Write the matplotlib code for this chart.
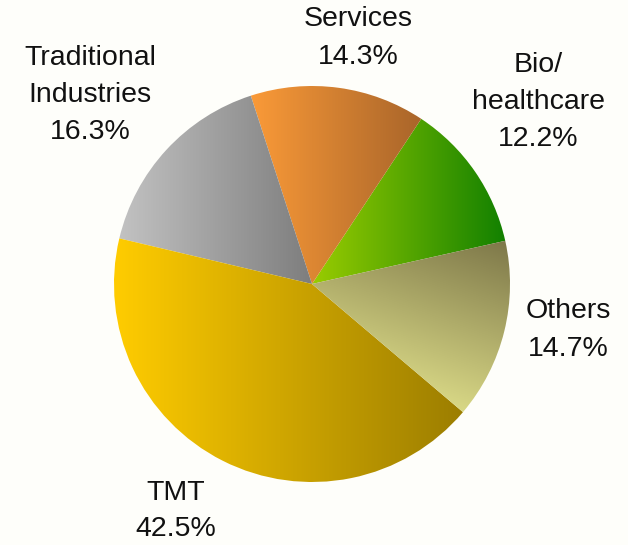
import numpy as np
import matplotlib
matplotlib.use("Agg")
import matplotlib.pyplot as plt
from matplotlib.colors import LinearSegmentedColormap

# data
sectors = ["Bio/\nhealthcare", "Services", "Traditional\nIndustries", "TMT", "Others"]
shares = [12.2, 14.3, 16.3, 42.5, 14.7]
# gradient colours (light -> dark)
light_colors = ["#99CC00", "#FA9A38", "#C2C2C2", "#FFCC00", "#E2E28C"]
dark_colors = ["#128000", "#A9652A", "#7E7E7E", "#9C7E00", "#7C7648"]
# gradient direction in pixels (from top-left), None = left to right
grad_lines = [None, None, None, None, ((445, 425), (512, 240))]
# label block centres in pixels (x, y from top)
label_pos = [(538, 102), (358, 38), (90, 95), (176, 511), (568, 330)]

W, H = 628, 545
plt.rcParams["font.family"] = ["Liberation Sans Narrow", "Liberation Sans", "DejaVu Sans"]

fig = plt.figure(figsize=(W / 100, H / 100), dpi=100)
fig.patch.set_facecolor("#FEFEFA")
ax = fig.add_axes([0, 0, 1, 1])

cx, cy, r = 312, H - 284, 198
wedges, _ = ax.pie(shares, center=(cx, cy), radius=r, startangle=12.6,
                   counterclock=True, colors=["none"] * len(shares),
                   wedgeprops=dict(linewidth=0))

for w, c0, c1, gl in zip(wedges, light_colors, dark_colors, grad_lines):
    x0, y0, x1, y1 = w.get_path().get_extents().extents
    cmap = LinearSegmentedColormap.from_list("g", [c0, c1])
    xs = np.linspace(x0, x1, 200)
    ys = np.linspace(y0, y1, 200)
    gx, gy = np.meshgrid(xs, ys)
    if gl is None:
        grad = (gx - x0) / (x1 - x0)
    else:
        (ax_, ay_), (bx_, by_) = gl
        ay_, by_ = H - ay_, H - by_
        dx, dy = bx_ - ax_, by_ - ay_
        grad = ((gx - ax_) * dx + (gy - ay_) * dy) / (dx * dx + dy * dy)
        grad = np.clip(grad, 0, 1)
    im = ax.imshow(grad, cmap=cmap, extent=(x0, x1, y0, y1), origin="lower",
                   interpolation="bilinear", aspect="auto", zorder=1,
                   vmin=0, vmax=1)
    im.set_clip_path(w)

for lab, share, (tx, ty) in zip(sectors, shares, label_pos):
    ax.text(tx, H - ty, f"{lab}\n{share:.1f}%", ha="center", va="center",
            multialignment="center", fontsize=20.5, linespacing=1.55,
            color="#111111")

ax.set_xlim(0, W)
ax.set_ylim(0, H)
ax.set_aspect("auto")
ax.axis("off")

fig.savefig("out.png", dpi=100, facecolor=fig.get_facecolor())
